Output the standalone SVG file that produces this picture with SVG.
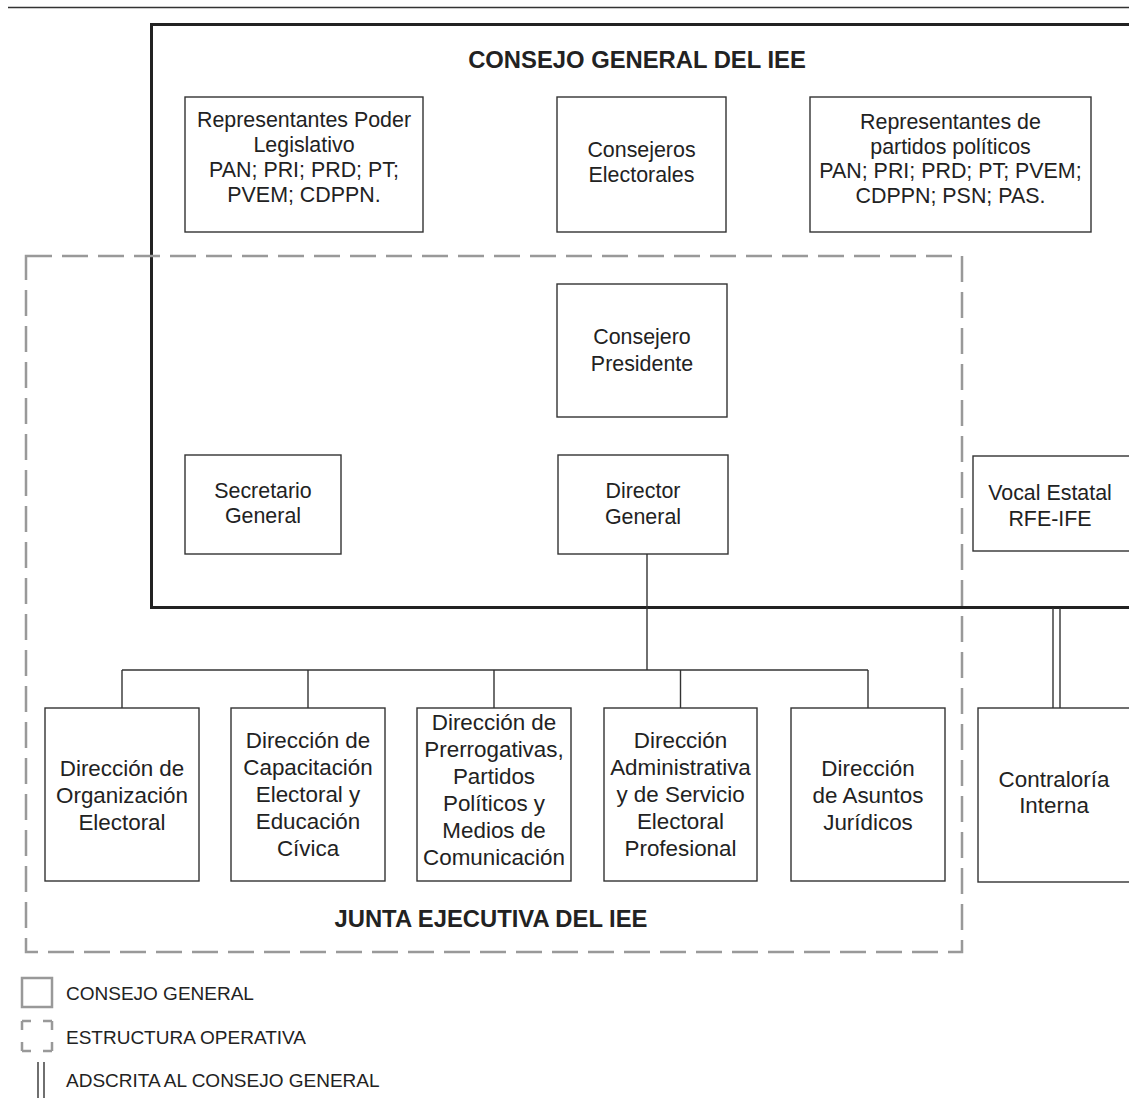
<svg xmlns="http://www.w3.org/2000/svg" width="1129" height="1103" viewBox="0 0 1129 1103">
<style>
text{font-family:"Liberation Sans",Arial,sans-serif;fill:#222;text-anchor:middle}
.t{font-size:21.4px}
.b{font-size:22.4px}
.h{font-size:23.8px;font-weight:bold}
.lg{font-size:19px;text-anchor:start}
.box{fill:#fff;stroke:#333;stroke-width:1.4}
.ln{stroke:#333;stroke-width:1.4;fill:none}
</style>
<rect width="1129" height="1103" fill="#fff"/>
<line x1="8" y1="7.5" x2="1129" y2="7.5" stroke="#333" stroke-width="1.5"/>
<g id="consejo-general">
<rect x="151.5" y="24.5" width="1000" height="583" fill="none" stroke="#222" stroke-width="3"/>
<text class="h" x="637" y="68">CONSEJO GENERAL DEL IEE</text>
</g>
<g id="junta-ejecutiva">
<rect x="26" y="256" width="936" height="696" fill="none" stroke="#999" stroke-width="2.5" stroke-dasharray="26 10"/>
<text class="h" x="491" y="927">JUNTA EJECUTIVA DEL IEE</text>
</g>
<g id="connectors">
<line class="ln" x1="647" y1="554" x2="647" y2="670"/>
<line class="ln" x1="122" y1="670" x2="868" y2="670"/>
<line class="ln" x1="122" y1="670" x2="122" y2="708"/>
<line class="ln" x1="308" y1="670" x2="308" y2="708"/>
<line class="ln" x1="494" y1="670" x2="494" y2="708"/>
<line class="ln" x1="680.5" y1="670" x2="680.5" y2="708"/>
<line class="ln" x1="868" y1="670" x2="868" y2="708"/>
<line class="ln" x1="1053" y1="608" x2="1053" y2="708"/>
<line class="ln" x1="1060" y1="608" x2="1060" y2="708"/>
</g>
<g id="rep-legislativo">
<rect class="box" x="185" y="97" width="238" height="135"/>
<text class="t" x="304" y="127">Representantes Poder</text>
<text class="t" x="304" y="152">Legislativo</text>
<text class="t" x="304" y="177">PAN; PRI; PRD; PT;</text>
<text class="t" x="304" y="202">PVEM; CDPPN.</text>
</g>
<g id="consejeros-electorales">
<rect class="box" x="557" y="97" width="169" height="135"/>
<text class="t" x="641.5" y="157">Consejeros</text>
<text class="t" x="641.5" y="182">Electorales</text>
</g>
<g id="rep-partidos">
<rect class="box" x="810" y="97" width="281" height="135"/>
<text class="t" x="950.5" y="129">Representantes de</text>
<text class="t" x="950.5" y="154">partidos políticos</text>
<text class="t" x="950.5" y="178">PAN; PRI; PRD; PT; PVEM;</text>
<text class="t" x="950.5" y="203">CDPPN; PSN; PAS.</text>
</g>
<g id="consejero-presidente">
<rect class="box" x="557" y="284" width="170" height="133"/>
<text class="t" x="642" y="344">Consejero</text>
<text class="t" x="642" y="371">Presidente</text>
</g>
<g id="secretario-general">
<rect class="box" x="185" y="455" width="156" height="99"/>
<text class="t" x="263" y="498">Secretario</text>
<text class="t" x="263" y="523">General</text>
</g>
<g id="director-general">
<rect class="box" x="558" y="455" width="170" height="99"/>
<text class="t" x="643" y="498">Director</text>
<text class="t" x="643" y="524">General</text>
</g>
<g id="vocal-estatal">
<rect class="box" x="973" y="456" width="160" height="95"/>
<text class="t" x="1050" y="500">Vocal Estatal</text>
<text class="t" x="1050" y="526">RFE-IFE</text>
</g>
<g id="contraloria">
<rect class="box" x="978" y="708" width="170" height="174"/>
<text class="b" x="1054" y="787">Contraloría</text>
<text class="b" x="1054" y="813">Interna</text>
</g>
<g id="dir-organizacion">
<rect class="box" x="45" y="708" width="154" height="173"/>
<text class="b" x="122" y="776">Dirección de</text>
<text class="b" x="122" y="803">Organización</text>
<text class="b" x="122" y="830">Electoral</text>
</g>
<g id="dir-capacitacion">
<rect class="box" x="231" y="708" width="154" height="173"/>
<text class="b" x="308" y="748">Dirección de</text>
<text class="b" x="308" y="775">Capacitación</text>
<text class="b" x="308" y="802">Electoral y</text>
<text class="b" x="308" y="829">Educación</text>
<text class="b" x="308" y="856">Cívica</text>
</g>
<g id="dir-prerrogativas">
<rect class="box" x="417" y="708" width="154" height="173"/>
<text class="b" x="494" y="730">Dirección de</text>
<text class="b" x="494" y="757">Prerrogativas,</text>
<text class="b" x="494" y="784">Partidos</text>
<text class="b" x="494" y="811">Políticos y</text>
<text class="b" x="494" y="838">Medios de</text>
<text class="b" x="494" y="865">Comunicación</text>
</g>
<g id="dir-administrativa">
<rect class="box" x="604" y="708" width="153" height="173"/>
<text class="b" x="680.5" y="748">Dirección</text>
<text class="b" x="680.5" y="775">Administrativa</text>
<text class="b" x="680.5" y="802">y de Servicio</text>
<text class="b" x="680.5" y="829">Electoral</text>
<text class="b" x="680.5" y="856">Profesional</text>
</g>
<g id="dir-juridicos">
<rect class="box" x="791" y="708" width="154" height="173"/>
<text class="b" x="868" y="776">Dirección</text>
<text class="b" x="868" y="803">de Asuntos</text>
<text class="b" x="868" y="830">Jurídicos</text>
</g>
<g id="legend">
<rect x="22" y="978" width="30" height="29" fill="none" stroke="#999" stroke-width="2.5"/>
<text class="lg" x="66" y="1000">CONSEJO GENERAL</text>
<rect x="22" y="1021" width="30" height="30" fill="none" stroke="#999" stroke-width="2.5" stroke-dasharray="9 12 9 0"/>
<text class="lg" x="66" y="1044">ESTRUCTURA OPERATIVA</text>
<line class="ln" x1="38" y1="1062" x2="38" y2="1098"/>
<line class="ln" x1="44" y1="1062" x2="44" y2="1098"/>
<text class="lg" x="66" y="1087">ADSCRITA AL CONSEJO GENERAL</text>
</g>
</svg>
